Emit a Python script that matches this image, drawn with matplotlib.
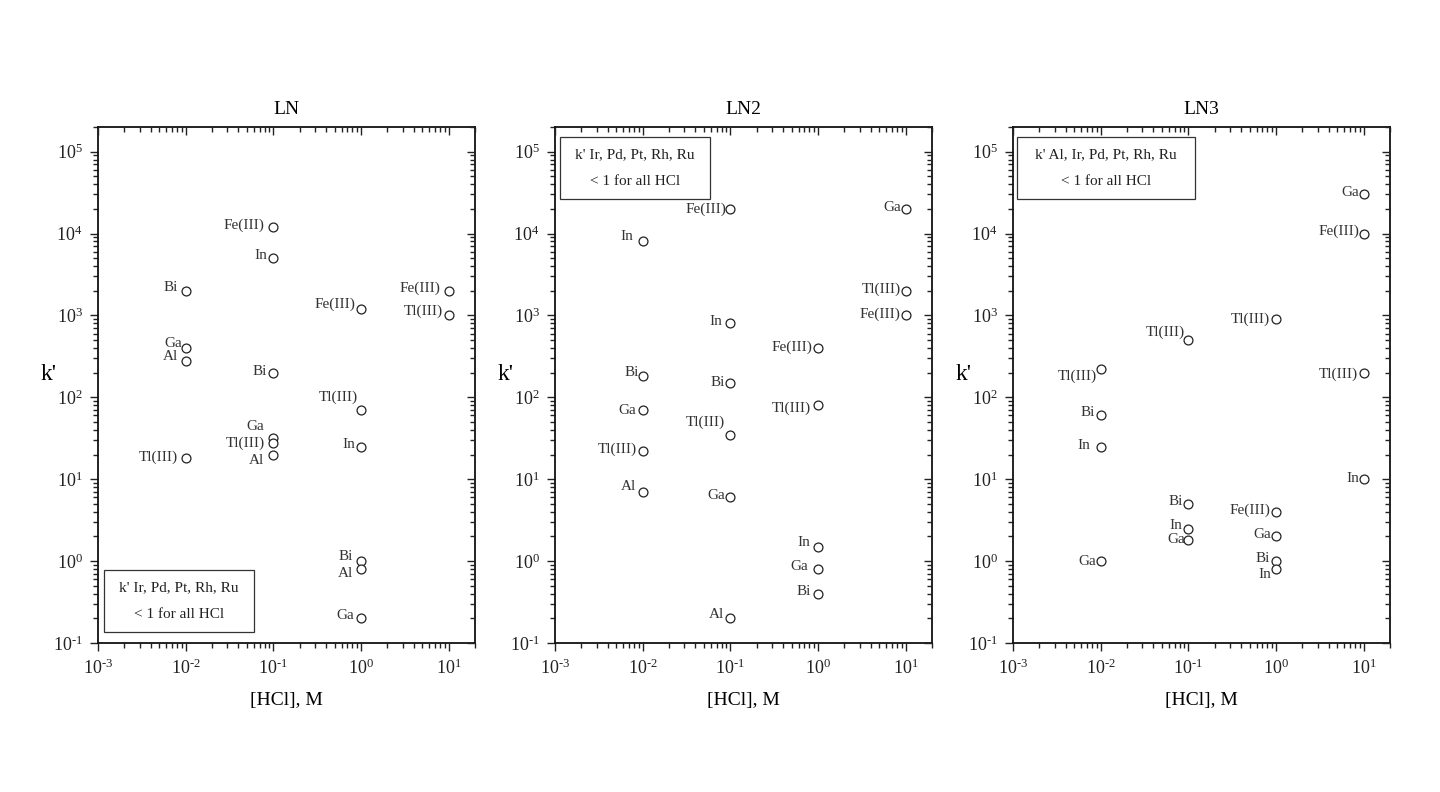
import matplotlib
matplotlib.use("Agg")
import matplotlib.pyplot as plt
from matplotlib.ticker import LogLocator, NullFormatter, FuncFormatter
from matplotlib.patches import Rectangle
import math

plt.rcParams['font.family'] = ['Liberation Serif', 'DejaVu Serif']
plt.rcParams['mathtext.fontset'] = 'custom'
plt.rcParams['mathtext.rm'] = 'Liberation Serif'
plt.rcParams['mathtext.it'] = 'Liberation Serif:italic'
plt.rcParams['mathtext.bf'] = 'Liberation Serif:bold'
plt.rcParams['axes.unicode_minus'] = False

# ---- data ----
titles = ["LN", "LN2", "LN3"]

ln_metals = ["Bi", "Ga", "Al", "Tl(III)",
             "Fe(III)", "In", "Bi", "Ga", "Tl(III)", "Al",
             "Fe(III)", "Tl(III)", "In", "Bi", "Al", "Ga",
             "Fe(III)", "Tl(III)"]
ln_hcl = [0.01, 0.01, 0.01, 0.01,
          0.1, 0.1, 0.1, 0.1, 0.1, 0.1,
          1, 1, 1, 1, 1, 1,
          10, 10]
ln_k = [2000, 400, 280, 18,
        12000, 5000, 200, 32, 28, 20,
        1200, 70, 25, 1.0, 0.8, 0.2,
        2000, 1000]

ln2_metals = ["In", "Bi", "Ga", "Tl(III)", "Al",
              "Fe(III)", "In", "Bi", "Tl(III)", "Ga", "Al",
              "Fe(III)", "Tl(III)", "In", "Ga", "Bi",
              "Ga", "Tl(III)", "Fe(III)"]
ln2_hcl = [0.01, 0.01, 0.01, 0.01, 0.01,
           0.1, 0.1, 0.1, 0.1, 0.1, 0.1,
           1, 1, 1, 1, 1,
           10, 10, 10]
ln2_k = [8000, 180, 70, 22, 7,
         20000, 800, 150, 35, 6, 0.2,
         400, 80, 1.5, 0.8, 0.4,
         20000, 2000, 1000]

ln3_metals = ["Tl(III)", "Bi", "In", "Ga",
              "Tl(III)", "Bi", "In", "Ga",
              "Tl(III)", "Fe(III)", "Ga", "Bi", "In",
              "Ga", "Fe(III)", "Tl(III)", "In"]
ln3_hcl = [0.01, 0.01, 0.01, 0.01,
           0.1, 0.1, 0.1, 0.1,
           1, 1, 1, 1, 1,
           10, 10, 10, 10]
ln3_k = [220, 60, 25, 1.0,
         500, 5, 2.5, 1.8,
         900, 4, 2, 1.0, 0.8,
         30000, 10000, 200, 10]

notes = [["k' Ir, Pd, Pt, Rh, Ru", "< 1 for all HCl"],
         ["k' Ir, Pd, Pt, Rh, Ru", "< 1 for all HCl"],
         ["k' Al, Ir, Pd, Pt, Rh, Ru", "< 1 for all HCl"]]

# ---- styling: label offsets (pixels: right edge dx, centre dy) ----
ln_off = [(-8, 3), (-4, 5), (-8, 4), (-8, 1),
          (-9, 2), (-6, 3), (-6, 1), (-9, 11), (-8, -1), (-9, -6),
          (-6, 5), (-3, 13), (-6, 2), (-8, 5), (-8, -4), (-7, 3),
          (-8, 3), (-6, 4)]
ln2_off = [(-9, 5), (-4, 4), (-7, 0), (-6, 2), (-7, 5),
           (-4, 0), (-8, 2), (-5, 0), (-5, 12), (-5, 2), (-6, 4),
           (-6, 1), (-7, -3), (-8, 4), (-10, 3), (-7, 2),
           (-4, 1), (-5, 2), (-5, 1)]
ln3_off = [(-4, -7), (-6, 3), (-10, 1), (-5, 0),
           (-3, 8), (-5, 2), (-6, 3), (-3, 1),
           (-6, 0), (-6, 2), (-5, 2), (-6, 3), (-5, -5),
           (-4, 2), (-4, 2), (-6, -2), (-4, 1)]

panels = [(ln_metals, ln_hcl, ln_k, ln_off),
          (ln2_metals, ln2_hcl, ln2_k, ln2_off),
          (ln3_metals, ln3_hcl, ln3_k, ln3_off)]

note_boxes = [(0.016, 0.021, 0.398, 0.120),
              (0.013, 0.860, 0.398, 0.121),
              (0.010, 0.860, 0.474, 0.121)]

W, H = 1440, 792
fig = plt.figure(figsize=(W / 100, H / 100), dpi=100)
lefts = [98, 555, 1013]
ax_w = 377
ax_top, ax_bot = 127, 643


def pow_fmt(v, pos):
    e = int(round(math.log10(v)))
    if e < 0:
        return r"$10^{\text{-}%d}$" % (-e)
    return r"$10^{%d}$" % e


def set_log_locators(axis):
    axis.set_major_locator(LogLocator(base=10, numticks=10))
    axis.set_minor_locator(LogLocator(base=10, subs=range(2, 10), numticks=20))
    axis.set_major_formatter(FuncFormatter(pow_fmt))
    axis.set_minor_formatter(NullFormatter())


for i, (metals, hcl, kv, offs) in enumerate(panels):
    rect = [lefts[i] / W, 1 - ax_bot / H, ax_w / W, (ax_bot - ax_top) / H]
    ax = fig.add_axes(rect)
    ax.set_xscale('log')
    ax.set_yscale('log')
    ax.set_xlim(1e-3, 20)
    ax.set_ylim(0.1, 2e5)
    ax.plot(hcl, kv, linestyle='none', marker='o', markersize=6.4,
            markerfacecolor='white', markeredgecolor='#222222', markeredgewidth=0.9,
            zorder=4)
    for m, x, y, (dx, dy) in zip(metals, hcl, kv, offs):
        ax.annotate(m, (x, y), xytext=(dx, dy), textcoords='offset pixels',
                    ha='right', va='center', fontsize=11, color='#333333')
    ax.set_title(titles[i], fontsize=14, pad=9)
    ax.set_xlabel("[HCl], M", fontsize=14, labelpad=10)
    ax.set_ylabel("k'", fontsize=17, rotation=0)
    ax.yaxis.set_label_coords(-0.13, 0.5)

    set_log_locators(ax.xaxis)
    set_log_locators(ax.yaxis)

    ax.tick_params(which='both', top=False, right=False, direction='out',
                   labelsize=13, width=1.0, colors='#222222')
    ax.tick_params(which='major', length=6, pad=5)
    ax.tick_params(which='minor', length=3.5)

    # overlay axes carrying the inward ticks on top and right
    ov = fig.add_axes(rect, sharex=ax, sharey=ax, frameon=False)
    ov.patch.set_visible(False)
    ov.tick_params(which='both', direction='in', top=True, right=True,
                   bottom=False, left=False, labelbottom=False, labelleft=False,
                   width=1.0, colors='#222222')
    ov.tick_params(which='major', length=6)
    ov.tick_params(which='minor', length=3.5)

    for s in ax.spines.values():
        s.set_linewidth(1.3)
        s.set_color('#111111')

    bx, by, bw, bh = note_boxes[i]
    ax.add_patch(Rectangle((bx, by), bw, bh, transform=ax.transAxes, fill=False,
                           edgecolor='#333333', linewidth=0.9, zorder=3))
    ax.text(bx + bw / 2, by + bh * 0.72, notes[i][0], transform=ax.transAxes,
            ha='center', va='center', fontsize=11, color='#222222')
    ax.text(bx + bw / 2, by + bh * 0.28, notes[i][1], transform=ax.transAxes,
            ha='center', va='center', fontsize=11, color='#222222')

fig.savefig("out.png", dpi=100, facecolor='white')
